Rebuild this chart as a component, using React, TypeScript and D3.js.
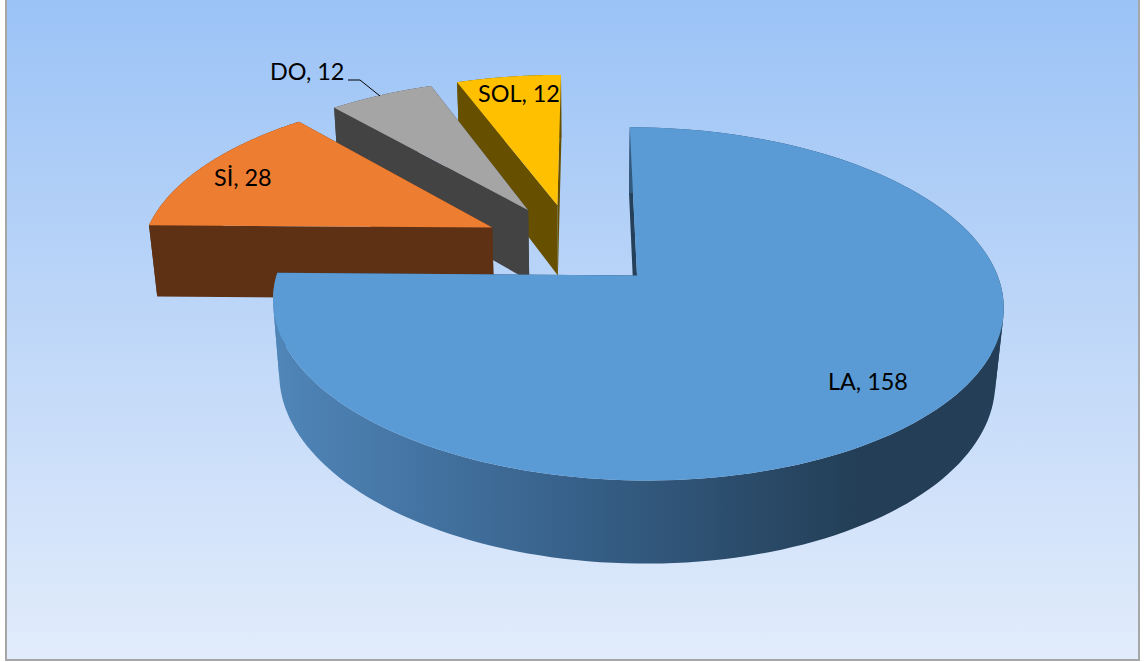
import React from 'react';
import * as d3 from 'd3';

const notes = ['LA', 'Sİ', 'DO', 'SOL'];
const counts = [158, 28, 12, 12];
const topColors = ['#5b9bd5', '#ed7d31', '#a5a5a5', '#ffc000'];
const wallColors = ['#24405a', '#5e3115', '#434343', '#665000'];

// label anchor (start of text baseline) in pixels
const labelX = [828, 214, 270, 478];
const labelY = [390, 186, 80, 102];

const W = 1144;
const H = 662;

// perspective of the pie plane, fitted on the picture
const view = { x0: 585, y0: 275.4, a: 360.5, b: 172, k: 0.1615, shift: 52 };
const nadir = { x: 585, y: 4000 };
const depth = 0.0198;
const explode = 0.257;

type Pt = [number, number];

const project = (u: number, v: number, h = 0): Pt => {
  const w = 1 + view.k * v;
  const x = view.x0 + (view.a * u + view.shift) / w;
  const y = view.y0 - (view.b * v) / w;
  const t = (depth * h) / w;
  return [x + (nadir.x - x) * t, y + (nadir.y - y) * t];
};

const line = d3.line<Pt>();

const App: React.FC = () => {
  const arcs = d3.pie<number>().sort(null)(counts);

  const dir = (a: number): Pt => [Math.sin(a), Math.cos(a)];
  const mid0 = dir((arcs[0].startAngle + arcs[0].endAngle) / 2);
  // the whole pie is exploded, so the first slice's apex is the plane origin
  const cu = -explode * mid0[0];
  const cv = -explode * mid0[1];

  const slices = arcs.map((arc, i) => {
    const m = dir((arc.startAngle + arc.endAngle) / 2);
    const au = cu + explode * m[0];
    const av = cv + explode * m[1];
    const n = 160;
    const angle = d3.scaleLinear().domain([0, n]).range([arc.startAngle, arc.endAngle]);
    const rim = d3.range(n + 1).map(j => {
      const d = dir(angle(j));
      return [au + d[0], av + d[1]] as Pt;
    });
    const apexTop = project(au, av);
    const apexLow = project(au, av, 1);
    const rimTop = rim.map(p => project(p[0], p[1]));
    const rimLow = rim.map(p => project(p[0], p[1], 1));

    // outer wall as small quads, so the silhouette gets its straight tangents
    const quads = d3.range(n).map(j => [rimTop[j], rimTop[j + 1], rimLow[j + 1], rimLow[j]] as Pt[]);
    const toPath = (list: Pt[][]) => list.map(q => line(q) + 'Z').join('');

    return {
      i,
      top: line([apexTop, ...rimTop])! + 'Z',
      outerA: toPath(quads.filter(q => d3.polygonArea(q) > 0)),
      outerB: toPath(quads.filter(q => d3.polygonArea(q) <= 0)),
      startWall: line([apexTop, rimTop[0], rimLow[0], apexLow])! + 'Z',
      endWall: line([apexTop, rimTop[n], rimLow[n], apexLow])! + 'Z',
    };
  });

  return (
    <svg
      width={W}
      height={H}
      viewBox={`0 0 ${W} ${H}`}
      style={{ position: 'fixed', left: 0, top: 0, background: '#fff' }}
    >
      <defs>
        <linearGradient id="bg" x1="0" y1="0" x2="0" y2="1">
          <stop offset="0" stopColor="#9bc3f6" />
          <stop offset="0.45" stopColor="#bbd5f8" />
          <stop offset="1" stopColor="#e2ecfb" />
        </linearGradient>
        <linearGradient id="wallLA" gradientUnits="userSpaceOnUse" x1="280" y1="0" x2="860" y2="0">
          <stop offset="0" stopColor="#5085b8" />
          <stop offset="0.5" stopColor="#37618a" />
          <stop offset="1" stopColor="#233e56" />
        </linearGradient>
      </defs>

      <rect x={6} y={-2} width={1133} height={662} fill="url(#bg)" stroke="#a6a6a6" strokeWidth={2} />

      {slices.slice().reverse().map(s => (
        <g key={notes[s.i]}>
          <path d={s.endWall} fill={wallColors[s.i]} />
          <path d={s.startWall} fill={wallColors[s.i]} />
          <path d={s.outerA} fill={s.i === 0 ? 'url(#wallLA)' : wallColors[s.i]} />
          <path d={s.outerB} fill={s.i === 0 ? 'url(#wallLA)' : wallColors[s.i]} />
          <path d={s.top} fill={topColors[s.i]} />
        </g>
      ))}

      <polyline points="348,80 360,80 380,96" fill="none" stroke="#000" strokeWidth={1} />

      {notes.map((name, i) => (
        <text
          key={name}
          x={labelX[i]}
          y={labelY[i]}
          fontFamily="Lato, 'Open Sans', sans-serif"
          fontSize={23.4}
          fill="#000"
        >
          {`${name}, ${counts[i]}`}
        </text>
      ))}
    </svg>
  );
};

export default App;
